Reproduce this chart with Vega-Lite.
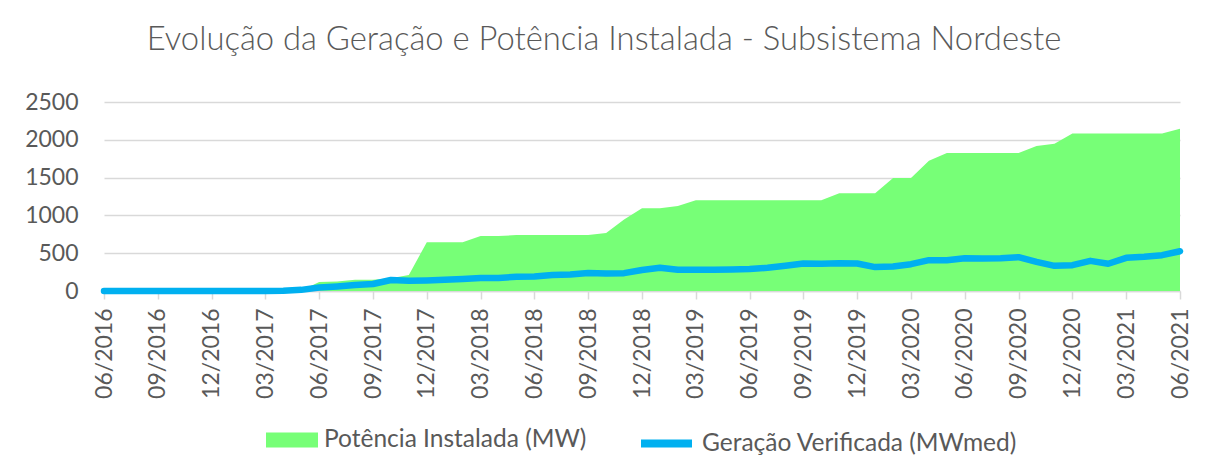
{
  "$schema": "https://vega.github.io/schema/vega-lite/v6.json",
  "width": 1076,
  "height": 189,
  "autosize": "none",
  "padding": {"left": 104, "top": 102, "right": 26, "bottom": 184},
  "background": "white",
  "title": {
    "text": "Evolução da Geração e Potência Instalada - Subsistema Nordeste",
    "font": "Lato",
    "fontSize": 32.8,
    "fontWeight": 300,
    "color": "#595959",
    "anchor": "middle",
    "dx": -38,
    "offset": 34
  },
  "data": {
    "values": [
      {"mes": "06/2016", "potencia": 0, "geracao": 0},
      {"mes": "07/2016", "potencia": 0, "geracao": 0},
      {"mes": "08/2016", "potencia": 0, "geracao": 0},
      {"mes": "09/2016", "potencia": 0, "geracao": 0},
      {"mes": "10/2016", "potencia": 0, "geracao": 0},
      {"mes": "11/2016", "potencia": 0, "geracao": 0},
      {"mes": "12/2016", "potencia": 0, "geracao": 0},
      {"mes": "01/2017", "potencia": 0, "geracao": 0},
      {"mes": "02/2017", "potencia": 0, "geracao": 0},
      {"mes": "03/2017", "potencia": 0, "geracao": 0},
      {"mes": "04/2017", "potencia": 0, "geracao": 3},
      {"mes": "05/2017", "potencia": 5, "geracao": 15},
      {"mes": "06/2017", "potencia": 120, "geracao": 45},
      {"mes": "07/2017", "potencia": 125, "geracao": 61},
      {"mes": "08/2017", "potencia": 148, "geracao": 78},
      {"mes": "09/2017", "potencia": 148, "geracao": 92},
      {"mes": "10/2017", "potencia": 170, "geracao": 145},
      {"mes": "11/2017", "potencia": 212, "geracao": 136},
      {"mes": "12/2017", "potencia": 645, "geracao": 140},
      {"mes": "01/2018", "potencia": 645, "geracao": 149},
      {"mes": "02/2018", "potencia": 645, "geracao": 158},
      {"mes": "03/2018", "potencia": 726, "geracao": 171},
      {"mes": "04/2018", "potencia": 726, "geracao": 171},
      {"mes": "05/2018", "potencia": 741, "geracao": 189},
      {"mes": "06/2018", "potencia": 741, "geracao": 193},
      {"mes": "07/2018", "potencia": 741, "geracao": 211},
      {"mes": "08/2018", "potencia": 741, "geracao": 219},
      {"mes": "09/2018", "potencia": 741, "geracao": 238},
      {"mes": "10/2018", "potencia": 768, "geracao": 232},
      {"mes": "11/2018", "potencia": 945, "geracao": 236},
      {"mes": "12/2018", "potencia": 1096, "geracao": 278},
      {"mes": "01/2019", "potencia": 1096, "geracao": 307},
      {"mes": "02/2019", "potencia": 1123, "geracao": 281},
      {"mes": "03/2019", "potencia": 1202, "geracao": 282},
      {"mes": "04/2019", "potencia": 1202, "geracao": 282},
      {"mes": "05/2019", "potencia": 1202, "geracao": 285},
      {"mes": "06/2019", "potencia": 1202, "geracao": 290},
      {"mes": "07/2019", "potencia": 1202, "geracao": 307},
      {"mes": "08/2019", "potencia": 1202, "geracao": 333},
      {"mes": "09/2019", "potencia": 1202, "geracao": 364},
      {"mes": "10/2019", "potencia": 1202, "geracao": 360},
      {"mes": "11/2019", "potencia": 1294, "geracao": 366},
      {"mes": "12/2019", "potencia": 1294, "geracao": 364},
      {"mes": "01/2020", "potencia": 1294, "geracao": 316},
      {"mes": "02/2020", "potencia": 1496, "geracao": 325},
      {"mes": "03/2020", "potencia": 1496, "geracao": 355},
      {"mes": "04/2020", "potencia": 1724, "geracao": 408},
      {"mes": "05/2020", "potencia": 1825, "geracao": 408},
      {"mes": "06/2020", "potencia": 1825, "geracao": 434},
      {"mes": "07/2020", "potencia": 1825, "geracao": 430},
      {"mes": "08/2020", "potencia": 1825, "geracao": 434},
      {"mes": "09/2020", "potencia": 1825, "geracao": 447},
      {"mes": "10/2020", "potencia": 1917, "geracao": 386},
      {"mes": "11/2020", "potencia": 1947, "geracao": 333},
      {"mes": "12/2020", "potencia": 2083, "geracao": 342},
      {"mes": "01/2021", "potencia": 2083, "geracao": 399},
      {"mes": "02/2021", "potencia": 2083, "geracao": 360},
      {"mes": "03/2021", "potencia": 2083, "geracao": 439},
      {"mes": "04/2021", "potencia": 2083, "geracao": 452},
      {"mes": "05/2021", "potencia": 2083, "geracao": 474},
      {"mes": "06/2021", "potencia": 2145, "geracao": 526}
    ]
  },
  "encoding": {
    "x": {
      "field": "mes",
      "type": "ordinal",
      "sort": null,
      "scale": {"type": "point", "padding": 0},
      "axis": {
        "title": null,
        "values": ["06/2016","09/2016","12/2016","03/2017","06/2017","09/2017","12/2017","03/2018","06/2018","09/2018","12/2018","03/2019","06/2019","09/2019","12/2019","03/2020","06/2020","09/2020","12/2020","03/2021","06/2021"],
        "labelAngle": -90,
        "labelAlign": "right",
        "labelBaseline": "middle",
        "labelFont": "Lato",
        "labelFontSize": 23,
        "labelColor": "#595959",
        "labelPadding": 9,
        "labelOverlap": false,
        "domainColor": "#D9D9D9",
        "domainWidth": 1.5,
        "tickColor": "#D9D9D9",
        "tickWidth": 1.5,
        "tickSize": 8,
        "grid": false,
        "zindex": 0
      }
    }
  },
  "layer": [
    {
      "mark": {"type": "area", "interpolate": "linear"},
      "encoding": {
        "y": {
          "field": "potencia",
          "type": "quantitative",
          "scale": {"domain": [0, 2500], "nice": false, "zero": true},
          "axis": {
            "title": null,
            "values": [0, 500, 1000, 1500, 2000, 2500],
            "format": "d",
            "labelOverlap": false,
            "labelFlush": false,
            "domain": false,
            "ticks": false,
            "labelFont": "Lato",
            "labelFontSize": 23,
            "labelColor": "#595959",
            "labelPadding": 26,
            "gridColor": "#D9D9D9",
            "gridWidth": 1.5
          }
        },
        "fill": {
          "datum": "Potência Instalada (MW)",
          "type": "nominal",
          "scale": {"range": ["#77FF77"]},
          "legend": {
            "title": null,
            "orient": "bottom",
            "symbolType": "M-1,-0.29H1V0.29H-1Z",
            "symbolSize": 2704,
            "symbolStrokeWidth": 0,
            "labelFont": "Lato",
            "labelFontSize": 24.5,
            "labelColor": "#595959",
            "labelOffset": 6,
            "labelLimit": 500,
            "offset": 15
          }
        }
      }
    },
    {
      "mark": {"type": "line", "strokeWidth": 6.5, "strokeJoin": "round", "strokeCap": "round"},
      "encoding": {
        "y": {
          "field": "geracao",
          "type": "quantitative",
          "scale": {"domain": [0, 2500], "nice": false, "zero": true},
          "axis": {
            "title": null,
            "values": [0, 500, 1000, 1500, 2000, 2500],
            "format": "d",
            "labelOverlap": false,
            "labelFlush": false,
            "domain": false,
            "ticks": false,
            "labelFont": "Lato",
            "labelFontSize": 23,
            "labelColor": "#595959",
            "labelPadding": 26,
            "gridColor": "#D9D9D9",
            "gridWidth": 1.5
          }
        },
        "stroke": {
          "datum": "Geração Verificada (MWmed)",
          "type": "nominal",
          "scale": {"range": ["#00B0F0"]},
          "legend": {
            "title": null,
            "orient": "bottom",
            "symbolType": "stroke",
            "symbolSize": 2601,
            "symbolStrokeWidth": 8,
            "labelFont": "Lato",
            "labelFontSize": 24.5,
            "labelColor": "#595959",
            "labelOffset": 6,
            "labelLimit": 500,
            "offset": 15
          }
        }
      }
    }
  ],
  "config": {
    "view": {"stroke": null},
    "legend": {"layout": {"bottom": {"anchor": "middle", "margin": 50}}}
  }
}
